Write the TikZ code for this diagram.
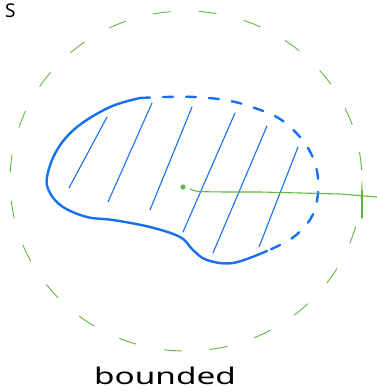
\documentclass[tikz,border=0pt]{standalone}
\usepackage{fontspec}
\usepackage{graphicx}
\setmainfont{Noto Sans}
\usetikzlibrary{calc}
\definecolor{SetBlue}{RGB}{22,112,240}
\definecolor{BallGreen}{RGB}{96,184,64}

\begin{document}
\begin{tikzpicture}[x=1pt, y=-1pt,
  rim/.style={SetBlue, line width=2.4pt, line cap=round, line join=round},
  hatch/.style={SetBlue, line width=1.1pt, line cap=round},
  ball/.style={BallGreen, line width=0.9pt, dash pattern=on 18pt off 28pt},
  rad/.style={BallGreen, line width=1.1pt, line cap=round},
  hand/.style={black, inner sep=0pt}]
\useasboundingbox (0,0) rectangle (377,392);
%% ball round the set
\draw[ball] (186,181) ellipse [x radius=176, y radius=170];
%% the set: closed part solid, open part dashed
\draw[rim] plot[smooth, tension=0.6] coordinates {(140,98) (110,107) (77,127) (57,150) (47,177) (50,193)
  (63,207) (87,217) (113,220) (150,227) (180,237) (193,250) (207,260) (233,263) (267,251)};
\draw[rim, dash pattern=on 10pt off 13pt] plot[smooth, tension=0.6] coordinates {(140,98) (165,97) (195,97)
  (225,100) (252,107) (283,121) (308,148) (318,178) (314,212) (295,236) (267,251)};
%% shading strokes
\foreach \a/\b in {{107,117}/{69,188}, {152,103}/{108,202}, {192,107}/{150,210},
                   {235,113}/{183,232}, {267,126}/{213,253}, {298,147}/{259,247}}
  {\draw[hatch] (\a) -- (\b);}
%% centre and radius
\coordinate (centre) at (183,187);
\coordinate (rimpt) at (377,197);
\fill[BallGreen] (centre) circle (2.6pt);
\draw[rad] ($(centre)+(7,2)$) .. controls (196,192) .. (260,192) -- (340,194) -- (rimpt);
\draw[rad] (362,190) -- (362,218);
%% labels
\node[hand, anchor=north west] (setname) at (5,4) {\fontsize{19}{19}\selectfont S};
\node[hand, anchor=base] (caption) at (165,384) {\scalebox{1.45}[1]{\fontsize{23}{23}\selectfont bounded}};
\end{tikzpicture}
\end{document}
